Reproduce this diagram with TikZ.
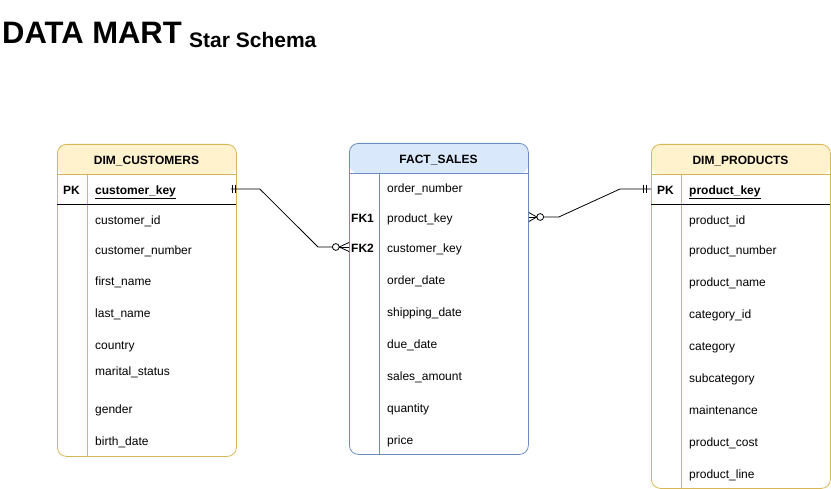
\documentclass[tikz,border=0pt]{standalone}
\usepackage{fontspec}
\setmainfont{Liberation Sans}
\usetikzlibrary{calc}
\definecolor{yfill}{HTML}{FFF2CC}
\definecolor{ystroke}{HTML}{D6B656}
\definecolor{bfill}{HTML}{DAE8FC}
\definecolor{bstroke}{HTML}{6C8EBF}
\begin{document}
\begin{tikzpicture}[x=1pt,y=-1pt,
  tbl/.style 2 args={draw=#1, line width=0.8pt, rounded corners=9pt, fill=white,
     anchor=north west, inner sep=0, minimum width=179pt,
     path picture={\fill[#2] (path picture bounding box.north west) rectangle ([yshift=-30pt]path picture bounding box.north east);}},
  fld/.style={anchor=west, inner sep=0, font=\fontsize{12}{14}\selectfont, text height=10.5pt, text depth=0pt},
  key/.style={fld, font=\fontsize{12}{14}\selectfont\bfseries},
  hdr/.style={inner sep=0, font=\fontsize{12}{14}\selectfont\bfseries, text height=10.5pt, text depth=0pt},
  sep/.style={line width=0.8pt},
  rel/.style={line width=0.8pt, black}]

\useasboundingbox (0,0) rectangle (831,489);

% title
\node[anchor=base west, inner sep=0, font=\fontsize{31}{35}\selectfont\bfseries] (title) at (2,44) {DATA MART};
\node[anchor=base west, inner sep=0, font=\fontsize{21}{25}\selectfont\bfseries] (sub) at (189,47.5) {Star Schema};

% ---------- DIM_CUSTOMERS ----------
\node[tbl={ystroke}{yfill}, minimum height=312pt] (cust) at (57,144) {};
\draw[sep, ystroke] (57,174) -- (236,174);
\draw[sep, ystroke] (87,174) -- (87,456);
\draw[sep, black] (57,204) -- (236,204);
\node[hdr] (custh) at (146.5,159) {DIM\_CUSTOMERS};
\node[key] (cpk) at (63,189) {PK};
\node[fld, font=\fontsize{12}{14}\selectfont\bfseries] (ckey) at (95,189) {\underline{customer\_key}};
\node[fld] (c1) at (95,219) {customer\_id};
\node[fld] (c2) at (95,249) {customer\_number};
\node[fld] (c3) at (95,280) {first\_name};
\node[fld] (c4) at (95,312) {last\_name};
\node[fld] (c5) at (95,344) {country};
\node[fld] (c6) at (95,370) {marital\_status};
\node[fld] (c7) at (95,408) {gender};
\node[fld] (c8) at (95,440) {birth\_date};

% ---------- FACT_SALES ----------
\node[tbl={bstroke}{bfill}, minimum height=311pt] (fact) at (349,143) {};
\draw[sep, bstroke] (349,173) -- (528,173);
\draw[sep, bstroke] (379,173) -- (379,454);
\node[hdr] (facth) at (438.5,158) {FACT\_SALES};
\node[fld] (f1) at (387,187) {order\_number};
\node[key] (fk1l) at (351,217) {FK1};
\node[fld] (fk1) at (387,217) {product\_key};
\node[key] (fk2l) at (351,247) {FK2};
\node[fld] (fk2) at (387,247) {customer\_key};
\node[fld] (f4) at (387,279) {order\_date};
\node[fld] (f5) at (387,311) {shipping\_date};
\node[fld] (f6) at (387,343) {due\_date};
\node[fld] (f7) at (387,375) {sales\_amount};
\node[fld] (f8) at (387,407) {quantity};
\node[fld] (f9) at (387,439) {price};

% ---------- DIM_PRODUCTS ----------
\node[tbl={ystroke}{yfill}, minimum height=344pt] (prod) at (651,144) {};
\draw[sep, ystroke] (651,174) -- (830,174);
\draw[sep, ystroke] (681,174) -- (681,488);
\draw[sep, black] (651,204) -- (830,204);
\node[hdr] (prodh) at (740.5,159) {DIM\_PRODUCTS};
\node[key] (ppk) at (657,189) {PK};
\node[fld, font=\fontsize{12}{14}\selectfont\bfseries] (pkey) at (689,189) {\underline{product\_key}};
\node[fld] (p1) at (689,219) {product\_id};
\node[fld] (p2) at (689,249) {product\_number};
\node[fld] (p3) at (689,281) {product\_name};
\node[fld] (p4) at (689,313) {category\_id};
\node[fld] (p5) at (689,345) {category};
\node[fld] (p6) at (689,377) {subcategory};
\node[fld] (p7) at (689,409) {maintenance};
\node[fld] (p8) at (689,441) {product\_cost};
\node[fld] (p9) at (689,473) {product\_line};

% ---------- relation: customers -> fact ----------
\coordinate (ca) at (cust.east |- ckey.west);
\coordinate (cb) at (fact.west |- fk2.west);
\draw[rel] ($(ca)+(-6,0)$) -- ($(ca)+(23,0)$) -- ($(cb)+(-31,0)$) -- ($(cb)+(-16.7,0)$);
\draw[rel] ($(ca)+(-4,-4)$) -- ++(0,8);
\draw[rel] ($(ca)+(-1.5,-4)$) -- ++(0,8);
\draw[rel] ($(cb)+(-13.2,0)$) circle (3.4pt);
\draw[rel] ($(cb)+(-9.8,0)$) -- ($(cb)+(0,-4.5)$);
\draw[rel] ($(cb)+(-9.8,0)$) -- ($(cb)+(0,4.5)$);
\draw[rel] ($(cb)+(-9.8,0)$) -- (cb);

% ---------- relation: fact -> products ----------
\coordinate (pa) at (fact.east |- fk1.west);
\coordinate (pb) at (prod.west |- pkey.west);
\draw[rel] ($(pa)+(0,-4.5)$) -- ($(pa)+(8,0)$) -- ($(pa)+(0,4.5)$);
\draw[rel] (pa) -- ($(pa)+(8,0)$);
\draw[rel] ($(pa)+(11.4,0)$) circle (3.4pt);
\draw[rel] ($(pa)+(14.8,0)$) -- ($(pa)+(30,0)$) -- ($(pb)+(-31,0)$) -- (pb);
\draw[rel] ($(pb)+(-8,-4)$) -- ++(0,8);
\draw[rel] ($(pb)+(-4.5,-4)$) -- ++(0,8);
\end{tikzpicture}
\end{document}
